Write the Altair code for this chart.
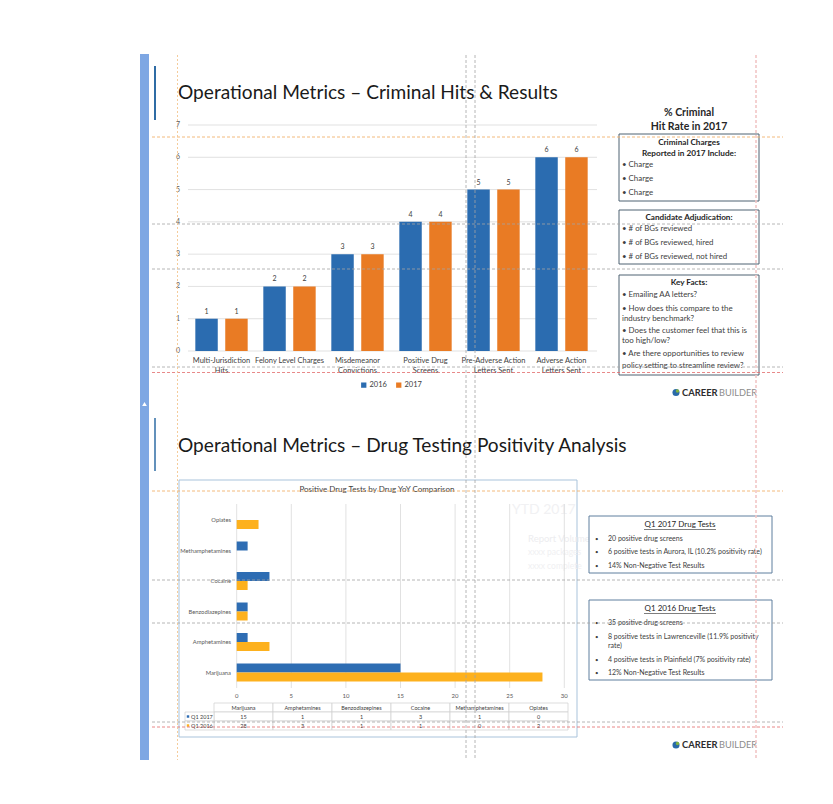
import altair as alt
import pandas as pd

# ---------------- data ----------------
crim_categories = ["Multi-Jurisdiction Hits", "Felony Level Charges", "Misdemeanor Convictions",
                   "Positive Drug Screens", "Pre-Adverse Action Letters Sent", "Adverse Action Letters Sent"]
crim_axis_labels = ["Multi-Jurisdiction\nHits", "Felony Level Charges", "Misdemeanor\nConvictions",
                    "Positive Drug\nScreens", "Pre-Adverse Action\nLetters Sent", "Adverse Action\nLetters Sent"]
crim_years = ["2016", "2017"]
crim_2016 = [1, 2, 3, 4, 5, 6]
crim_2017 = [1, 2, 3, 4, 5, 6]
crim_ticks = [0, 1, 2, 3, 4, 5, 6, 7]

drug_names = ["Marijuana", "Amphetamines", "Benzodiazepines", "Cocaine", "Methamphetamines", "Opiates"]
drug_series = ["Q1 2017", "Q1 2016"]
drug_q1_2017 = [15, 1, 1, 3, 1, 0]
drug_q1_2016 = [28, 3, 1, 1, 0, 2]
drug_ticks = [0, 5, 10, 15, 20, 25, 30]

title_top = "Operational Metrics \u2013 Criminal Hits & Results"
title_bottom = "Operational Metrics \u2013 Drug Testing Positivity Analysis"
drug_chart_title = "Positive Drug Tests by Drug YoY Comparison"
side_heading = ["% Criminal", "Hit Rate in 2017"]
box1_title = ["Criminal Charges", "Reported in 2017 Include:"]
box1_items = ["\u2022 Charge", "\u2022 Charge", "\u2022 Charge"]
box2_title = "Candidate Adjudication:"
box2_items = ["\u2022 # of BGs reviewed", "\u2022 # of BGs reviewed, hired", "\u2022 # of BGs reviewed, not hired"]
box3_title = "Key Facts:"
box3_lines = ["\u2022 Emailing AA letters?", "\u2022 How does this compare to the", "   industry benchmark?",
              "\u2022 Does the customer feel that this is", "   too high/low?",
              "\u2022 Are there opportunities to review", "   policy setting to streamline review?"]
q17_title = "Q1 2017 Drug Tests"
q17_items = ["20 positive drug screens", "6 positive tests in Aurora, IL (10.2% positivity rate)",
             "14% Non-Negative Test Results"]
q16_title = "Q1 2016 Drug Tests"
q16_lines = ["35 positive drug screens", "8 positive tests in Lawrenceville (11.9% positivity", "rate)",
             "4 positive tests in Plainfield (7% positivity rate)", "12% Non-Negative Test Results"]
ghost_lines = ["YTD 2017", "Report Volume", "xxxx packages", "xxxx complete"]

# ---------------- style ----------------
FONT = "Lato"
BLUE = "#2B6CB0"
ORANGE = "#E97B24"
BLUE2 = "#2E6DB3"
GOLD = "#FDB11E"
TXT = "#262626"
AXT = "#595959"

BASE = pd.DataFrame({"k": [0]})


def P(x):
    return x - 8


def Q(y):
    return y - 8


def text_at(x, y, value, size=8, color=TXT, align="left", weight="normal", baseline="middle"):
    return alt.Chart(BASE).mark_text(font=FONT, fontSize=size, color=color, align=align,
                                     baseline=baseline, fontWeight=weight).encode(
        x=alt.value(P(x)), y=alt.value(Q(y)), text=alt.value(value))


def hrule(y, x1, x2, color, dash=None, width=1.0):
    kw = dict(color=color, strokeWidth=width)
    if dash:
        kw["strokeDash"] = dash
    return alt.Chart(BASE).mark_rule(**kw).encode(
        x=alt.value(P(x1)), x2=alt.value(P(x2)), y=alt.value(Q(y)))


def vrule(x, y1, y2, color, dash=None, width=1.0):
    kw = dict(color=color, strokeWidth=width)
    if dash:
        kw["strokeDash"] = dash
    return alt.Chart(BASE).mark_rule(**kw).encode(
        x=alt.value(P(x)), y=alt.value(Q(y1)), y2=alt.value(Q(y2)))


def box(x1, y1, x2, y2, stroke=None, fill=None, width=1.0):
    kw = dict(strokeWidth=width)
    kw["fill"] = fill if fill else "transparent"
    if stroke:
        kw["stroke"] = stroke
    return alt.Chart(BASE).mark_rect(**kw).encode(
        x=alt.value(P(x1)), x2=alt.value(P(x2)), y=alt.value(Q(y1)), y2=alt.value(Q(y2)))


layers = []

# ---------------- slide decorations ----------------
layers.append(box(140, 54, 149, 760, fill="#7EA7E3", width=0))
layers.append(alt.Chart(BASE).mark_point(shape="triangle-up", filled=True, color="white", size=22, opacity=1).encode(
    x=alt.value(P(144.5)), y=alt.value(Q(404))))
layers.append(vrule(155, 66, 120, "#2F6CA5", width=2))
layers.append(vrule(155, 418, 471, "#2F6CA5", width=1.5))
layers.append(text_at(178, 99, title_top, size=19.1, color="#1A1A1A", baseline="alphabetic"))
layers.append(text_at(178, 452, title_bottom, size=19.1, color="#1A1A1A", baseline="alphabetic"))

# ---------------- top chart: criminal hits ----------------
crim_df = pd.DataFrame({
    "category": crim_categories * 2,
    "year": [crim_years[0]] * len(crim_categories) + [crim_years[1]] * len(crim_categories),
    "value": crim_2016 + crim_2017,
})
crim_x = alt.Scale(domain=crim_categories, range=[P(187.5), P(595.5)], paddingInner=0.23, paddingOuter=0.115)
crim_off = alt.Scale(domain=crim_years, paddingInner=0.25, paddingOuter=0)
crim_off_text = alt.Scale(type="point", domain=crim_years, padding=0.375)
crim_y = alt.Scale(domain=[0, 7], range=[Q(351), Q(125)], nice=False, zero=True)
crim_color = alt.Scale(domain=crim_years, range=[BLUE, ORANGE])

ticks_df = pd.DataFrame({"tick": crim_ticks})
layers.append(alt.Chart(ticks_df).mark_rule(color="#D9D9D9", strokeWidth=0.8).encode(
    y=alt.Y("tick:Q", scale=crim_y, axis=None), x=alt.value(P(188)), x2=alt.value(P(597))))
layers.append(alt.Chart(ticks_df).mark_text(font=FONT, fontSize=7, color=AXT, align="center", baseline="middle").encode(
    y=alt.Y("tick:Q", scale=crim_y, axis=None), x=alt.value(P(178)), text="tick:Q"))
layers.append(alt.Chart(crim_df).mark_bar().encode(
    x=alt.X("category:N", scale=crim_x, axis=None, sort=crim_categories),
    xOffset=alt.XOffset("year:N", scale=crim_off),
    y=alt.Y("value:Q", scale=crim_y, axis=None),
    color=alt.Color("year:N", scale=crim_color, legend=alt.Legend(
        orient="none", legendX=P(360), legendY=Q(381), direction="horizontal", title=None,
        symbolType="square", symbolSize=28, symbolStrokeWidth=0, labelFont=FONT, labelFontSize=7.5,
        labelColor="#404040", columnPadding=8, labelOffset=2, padding=0)),
))
layers.append(alt.Chart(crim_df).mark_text(font=FONT, fontSize=7, color="#404040", dy=-7).encode(
    x=alt.X("category:N", scale=crim_x, axis=None, sort=crim_categories),
    xOffset=alt.XOffset("year:N", scale=crim_off_text),
    y=alt.Y("value:Q", scale=crim_y, axis=None),
    text="value:Q",
))
layers.append(alt.Chart(pd.DataFrame({"category": crim_categories, "label": crim_axis_labels})).mark_text(
    font=FONT, fontSize=7.5, color="#404040", baseline="middle", lineBreak="\n", lineHeight=9.5).encode(
    x=alt.X("category:N", scale=crim_x, axis=None), y=alt.value(Q(361)), text="label:N"))

# right side text boxes (top)
layers.append(text_at(689, 113, side_heading[0], size=10.5, weight="bold", align="center"))
layers.append(text_at(689, 127, side_heading[1], size=10.5, weight="bold", align="center"))

layers.append(box(619, 134, 759, 201, stroke="#4F6272", fill="white"))
layers.append(text_at(689, 142.5, box1_title[0], size=8.2, weight="bold", align="center"))
layers.append(text_at(689, 153.5, box1_title[1], size=8.2, weight="bold", align="center"))
for yy, s in zip([165, 178.5, 192.5], box1_items):
    layers.append(text_at(622, yy, s, size=7.9, color="#404040"))

layers.append(box(619, 210, 759, 264, stroke="#4F6272", fill="white"))
layers.append(text_at(689, 217.5, box2_title, size=8.2, weight="bold", align="center"))
for yy, s in zip([229, 243, 257], box2_items):
    layers.append(text_at(622, yy, s, size=7.9, color="#404040"))

layers.append(box(619, 275, 759, 375, stroke="#4F6272", fill="white"))
layers.append(text_at(689, 283, box3_title, size=8.2, weight="bold", align="center"))
for yy, s in zip([295, 308.5, 318.5, 331, 341, 353.5, 365.5], box3_lines):
    layers.append(text_at(622, yy, s, size=7.9, color="#404040"))

# logos
for ly in [392.5, 745]:
    layers.append(alt.Chart(BASE).mark_point(shape="circle", filled=True, color="#2A6AA8", size=50, opacity=1).encode(
        x=alt.value(P(676)), y=alt.value(Q(ly))))
    layers.append(alt.Chart(BASE).mark_point(shape="circle", filled=True, color="#7FB241", size=12, opacity=1).encode(
        x=alt.value(P(677.5)), y=alt.value(Q(ly - 1.5))))
    layers.append(text_at(682, ly, "CAREER", size=9.4, weight="bold", color="#2D2D2D"))
    layers.append(text_at(719, ly, "BUILDER", size=9.2, color="#8C8C8C"))

# ---------------- bottom chart: drug testing ----------------
layers.append(box(179, 480, 577, 737, stroke="#A9C3DB", fill="white"))

# faint background text (partly hidden behind the right boxes)
layers.append(text_at(512, 510, ghost_lines[0], size=14, color="#F1F1F3"))
layers.append(text_at(528, 539, ghost_lines[1], size=9.5, color="#EDEDEF"))
layers.append(text_at(528, 552, ghost_lines[2], size=8.5, color="#F0F0F2"))
layers.append(text_at(528, 565.5, ghost_lines[3], size=8.5, color="#F0F0F2"))

layers.append(text_at(377, 490, drug_chart_title, size=8, color="#404040", align="center"))

drug_df = pd.DataFrame({
    "drug": drug_names * 2,
    "series": [drug_series[0]] * len(drug_names) + [drug_series[1]] * len(drug_names),
    "value": drug_q1_2017 + drug_q1_2016,
})
drug_x = alt.Scale(domain=[0, 30], range=[P(236.7), P(564.3)], nice=False, zero=True)
drug_y = alt.Scale(domain=drug_names[::-1], range=[Q(504.75), Q(687.75)], paddingInner=0.41, paddingOuter=0.205)
drug_off = alt.Scale(domain=drug_series, paddingInner=0, paddingOuter=0)
drug_color = alt.Scale(domain=drug_series, range=[BLUE2, GOLD])

dticks_df = pd.DataFrame({"tick": drug_ticks})
layers.append(alt.Chart(dticks_df).mark_rule(color="#D9D9D9", strokeWidth=0.8).encode(
    x=alt.X("tick:Q", scale=drug_x, axis=None), y=alt.value(Q(504)), y2=alt.value(Q(688))))
layers.append(alt.Chart(dticks_df).mark_text(font=FONT, fontSize=6, color=AXT, align="center", baseline="middle").encode(
    x=alt.X("tick:Q", scale=drug_x, axis=None), y=alt.value(Q(695.5)), text="tick:Q"))
layers.append(alt.Chart(drug_df).mark_bar().encode(
    y=alt.Y("drug:N", scale=drug_y, axis=None),
    yOffset=alt.YOffset("series:N", scale=drug_off),
    x=alt.X("value:Q", scale=drug_x, axis=None),
    color=alt.Color("series:N", scale=drug_color, legend=None),
))
layers.append(alt.Chart(pd.DataFrame({"drug": drug_names})).mark_text(
    font=FONT, fontSize=5.8, color=AXT, align="right", baseline="middle").encode(
    y=alt.Y("drug:N", scale=drug_y, axis=None), x=alt.value(P(231)), text="drug:N"))

# data table under the drug chart
table_rows = ["header"] + drug_series
table_x = alt.Scale(domain=drug_names, range=[P(214), P(568)], paddingInner=0, paddingOuter=0)
table_y = alt.Scale(domain=table_rows, range=[Q(703), Q(730)], paddingInner=0, paddingOuter=0)
cells_df = pd.DataFrame({
    "drug": drug_names * 3,
    "row": sum([[r] * len(drug_names) for r in table_rows], []),
    "label": drug_names + [str(v) for v in drug_q1_2017] + [str(v) for v in drug_q1_2016],
})
layers.append(alt.Chart(cells_df).mark_rect(fill="white", stroke="#CFCFCF", strokeWidth=0.7).encode(
    x=alt.X("drug:N", scale=table_x, axis=None), y=alt.Y("row:N", scale=table_y, axis=None)))
layers.append(alt.Chart(pd.DataFrame({"row": drug_series})).mark_rect(
    fill="white", stroke="#CFCFCF", strokeWidth=0.7).encode(
    y=alt.Y("row:N", scale=table_y, axis=None), x=alt.value(P(185)), x2=alt.value(P(214))))
layers.append(alt.Chart(cells_df).mark_text(font=FONT, fontSize=5.5, color="#404040", baseline="middle").encode(
    x=alt.X("drug:N", scale=table_x, axis=None), y=alt.Y("row:N", scale=table_y, axis=None), text="label:N"))
layers.append(alt.Chart(pd.DataFrame({"row": drug_series})).mark_square(size=6, opacity=1).encode(
    y=alt.Y("row:N", scale=table_y, axis=None), x=alt.value(P(188)),
    color=alt.Color("row:N", scale=drug_color, legend=None)))
layers.append(alt.Chart(pd.DataFrame({"row": drug_series})).mark_text(
    font=FONT, fontSize=5.5, color="#404040", align="left", baseline="middle").encode(
    y=alt.Y("row:N", scale=table_y, axis=None), x=alt.value(P(191)), text="row:N"))

# bottom right boxes
layers.append(box(589, 516, 772, 573, stroke="#5F7F9E", fill="white"))
layers.append(text_at(680, 524.5, q17_title, size=8, align="center"))
layers.append(hrule(529.5, 644, 716, TXT, width=0.6))
for yy, s in zip([539, 552, 565.5], q17_items):
    layers.append(text_at(595, yy, "\u2022", size=6, color="#404040"))
    layers.append(text_at(608, yy, s, size=7, color="#404040"))

layers.append(box(589, 600, 772, 680, stroke="#5F7F9E", fill="white"))
layers.append(text_at(680, 608.5, q16_title, size=8, align="center"))
layers.append(hrule(613.5, 644, 716, TXT, width=0.6))
for yy, s, bullet in zip([622.5, 636.5, 645.5, 659.5, 672.5], q16_lines, [1, 1, 0, 1, 1]):
    if bullet:
        layers.append(text_at(595, yy, "\u2022", size=6, color="#404040"))
    layers.append(text_at(608, yy, s, size=7, color="#404040"))

# ---------------- guide lines (overlay) ----------------
OR_G = "#F2B26E"
GR_G = "#A3A3A3"
RD_G = "#E26B6B"
for yy in [137, 491]:
    layers.append(hrule(yy, 152, 783, OR_G, dash=[3, 2], width=0.9))
for yy in [224, 269, 367, 580, 623, 722]:
    layers.append(hrule(yy, 152, 783, GR_G, dash=[3, 2], width=0.8))
for yy in [372.5, 727]:
    layers.append(hrule(yy, 152, 783, RD_G, dash=[3, 2], width=0.8))
layers.append(vrule(177.5, 55, 760, "#F4C690", dash=[2, 2], width=0.9))
for xx in [466, 475]:
    layers.append(vrule(xx, 55, 760, GR_G, dash=[3, 2], width=0.8))
layers.append(vrule(756, 55, 760, "#F2C6C6", dash=[3, 2], width=1.6))

chart = alt.layer(*layers).resolve_scale(
    x="independent", y="independent", color="independent", xOffset="independent", yOffset="independent"
).properties(
    width=817, height=788, padding=0, autosize=alt.AutoSizeParams(type="none"), background="white"
).configure(font=FONT, view=alt.ViewConfig(stroke=None))

chart.save("out.html", embed_options={"renderer": "svg", "actions": False})
